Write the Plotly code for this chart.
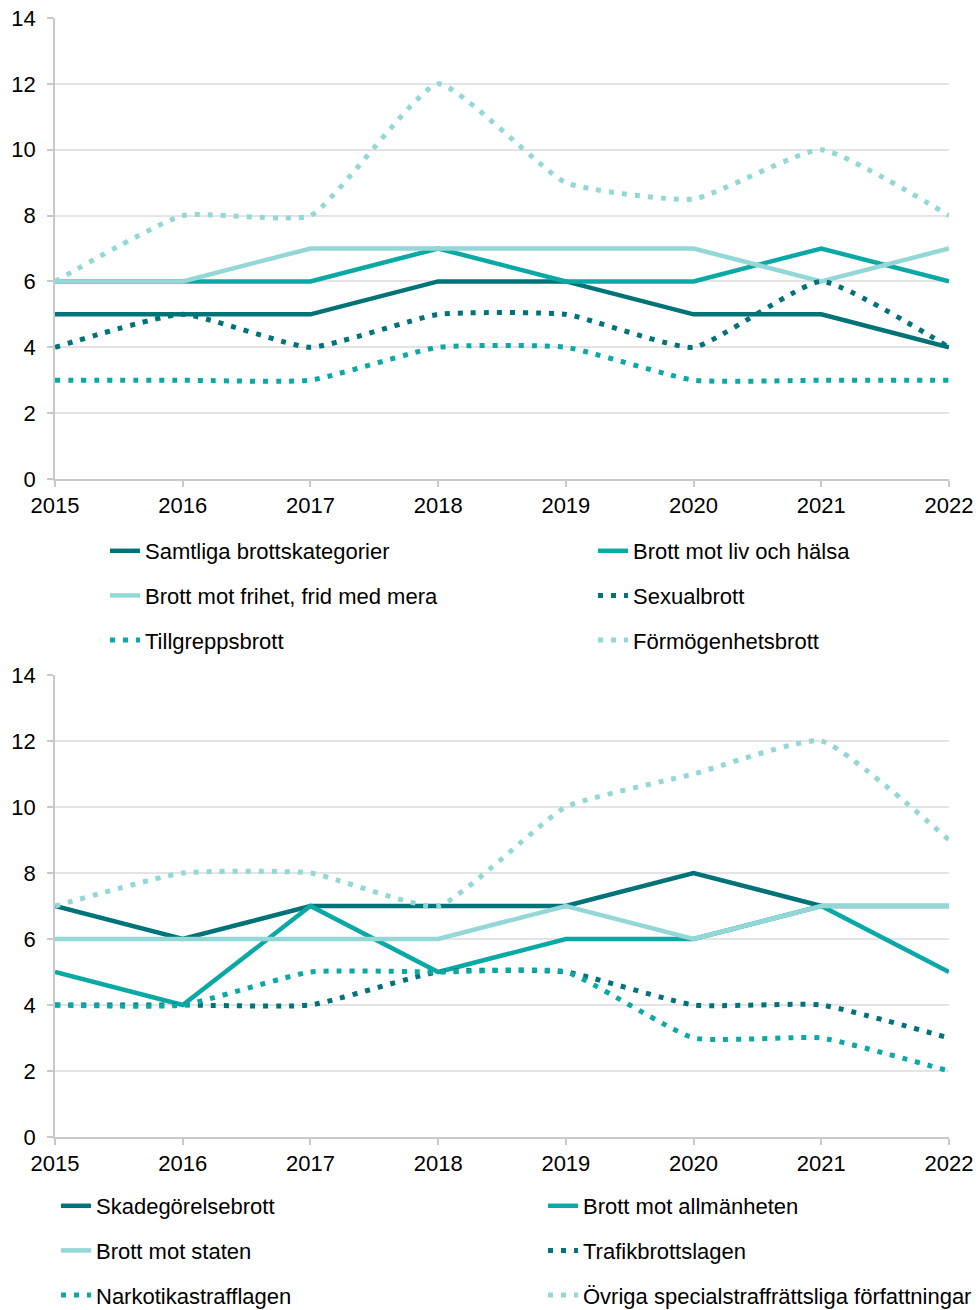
import plotly.graph_objects as go

years = [2015, 2016, 2017, 2018, 2019, 2020, 2021, 2022]

# Top chart series
samtliga = [5, 5, 5, 6, 6, 5, 5, 4]
liv_halsa = [6, 6, 6, 7, 6, 6, 7, 6]
frihet_frid = [6, 6, 7, 7, 7, 7, 6, 7]
sexualbrott = [4, 5, 4, 5, 5, 4, 6, 4]
tillgrepp = [3, 3, 3, 4, 4, 3, 3, 3]
formogenhet = [6, 8, 8, 12, 9, 8.5, 10, 8]

# Bottom chart series
skadegorelse = [7, 6, 7, 7, 7, 8, 7, 7]
allmanheten = [5, 4, 7, 5, 6, 6, 7, 5]
staten = [6, 6, 6, 6, 7, 6, 7, 7]
trafik = [4, 4, 4, 5, 5, 4, 4, 3]
narkotika = [4, 4, 5, 5, 5, 3, 3, 2]
ovriga = [7, 8, 8, 7, 10, 11, 12, 9]

y_ticks = [0, 2, 4, 6, 8, 10, 12, 14]

DARK = "#007378"
MID = "#0AA9A5"
LIGHT = "#93D8D6"
FONT = "Liberation Sans, Arial, sans-serif"
DOT = "5px,8px"

fig = go.Figure()

def add(name, vals, color, dotted, xa, ya, legend):
    fig.add_trace(go.Scatter(
        x=years, y=vals, name=name, mode="lines",
        line=dict(color=color, width=5 if dotted else 4.5,
                  dash=DOT if dotted else "solid",
                  shape="spline" if dotted else "linear", smoothing=0.45),
        xaxis=xa, yaxis=ya, legend=legend, legendgroup=name,
        cliponaxis=False, hoverinfo="x+y+name"))

# top
add("Samtliga brottskategorier", samtliga, DARK, False, "x", "y", "legend")
add("Brott mot liv och hälsa", liv_halsa, MID, False, "x", "y", "legend2")
add("Brott mot frihet, frid med mera", frihet_frid, LIGHT, False, "x", "y", "legend")
add("Sexualbrott", sexualbrott, DARK, True, "x", "y", "legend2")
add("Tillgreppsbrott", tillgrepp, MID, True, "x", "y", "legend")
add("Förmögenhetsbrott", formogenhet, LIGHT, True, "x", "y", "legend2")
# bottom
add("Skadegörelsebrott", skadegorelse, DARK, False, "x2", "y2", "legend3")
add("Brott mot allmänheten", allmanheten, MID, False, "x2", "y2", "legend4")
add("Brott mot staten", staten, LIGHT, False, "x2", "y2", "legend3")
add("Trafikbrottslagen", trafik, DARK, True, "x2", "y2", "legend4")
add("Narkotikastrafflagen", narkotika, MID, True, "x2", "y2", "legend3")
add("Övriga specialstraffrättsliga författningar", ovriga, LIGHT, True, "x2", "y2", "legend4")

W, H = 979, 1310
ML, MR, MT, MB = 55, 30, 18, 173
PW = W - ML - MR
PH = H - MT - MB

def px_x(p):
    return (p - ML) / PW

def px_y(p):
    return (H - MB - p) / PH

axis_x = dict(range=[2015, 2022], tickmode="array", tickvals=years,
              ticktext=[str(y) for y in years], showgrid=False,
              showline=True, linecolor="#c9c9c9", linewidth=1.5,
              ticks="outside", ticklen=6, tickcolor="#c9c9c9", tickwidth=1.5,
              tickfont=dict(family=FONT, size=22, color="#000"), zeroline=False,
              fixedrange=True, automargin=False)
axis_y = dict(range=[0, 14], tickvals=y_ticks, showgrid=True,
              gridcolor="#e4e4e4", gridwidth=1.5,
              showline=True, linecolor="#c9c9c9", linewidth=1.5,
              ticks="outside", ticklen=6, tickcolor="#c9c9c9", tickwidth=1.5,
              ticklabelstandoff=7,
              tickfont=dict(family=FONT, size=22, color="#000"), zeroline=False,
              fixedrange=True, automargin=False)

top_dom = [px_y(479), 1]
bot_dom = [0, px_y(675)]

def leg(xpx, ypx):
    return dict(x=px_x(xpx), y=px_y(ypx), xanchor="left", yanchor="top",
                orientation="v", tracegroupgap=13,
                font=dict(family=FONT, size=22, color="#000"),
                bgcolor="rgba(0,0,0,0)", itemwidth=30)

fig.update_layout(
    width=W, height=H,
    margin=dict(l=ML, r=MR, t=MT, b=MB, autoexpand=False),
    paper_bgcolor="white", plot_bgcolor="white",
    xaxis=dict(axis_x, anchor="y", domain=[0, 1]),
    yaxis=dict(axis_y, anchor="x", domain=top_dom),
    xaxis2=dict(axis_x, anchor="y2", domain=[0, 1]),
    yaxis2=dict(axis_y, anchor="x2", domain=bot_dom),
    legend=leg(105, 530),
    legend2=leg(593, 530),
    legend3=leg(56, 1185),
    legend4=leg(543, 1185),
    showlegend=True,
)

fig.write_html(
    "out.html",
    config={"displayModeBar": False},
    post_script="document.body.style.margin='0px';"
                "document.body.style.overflow='hidden';",
)
